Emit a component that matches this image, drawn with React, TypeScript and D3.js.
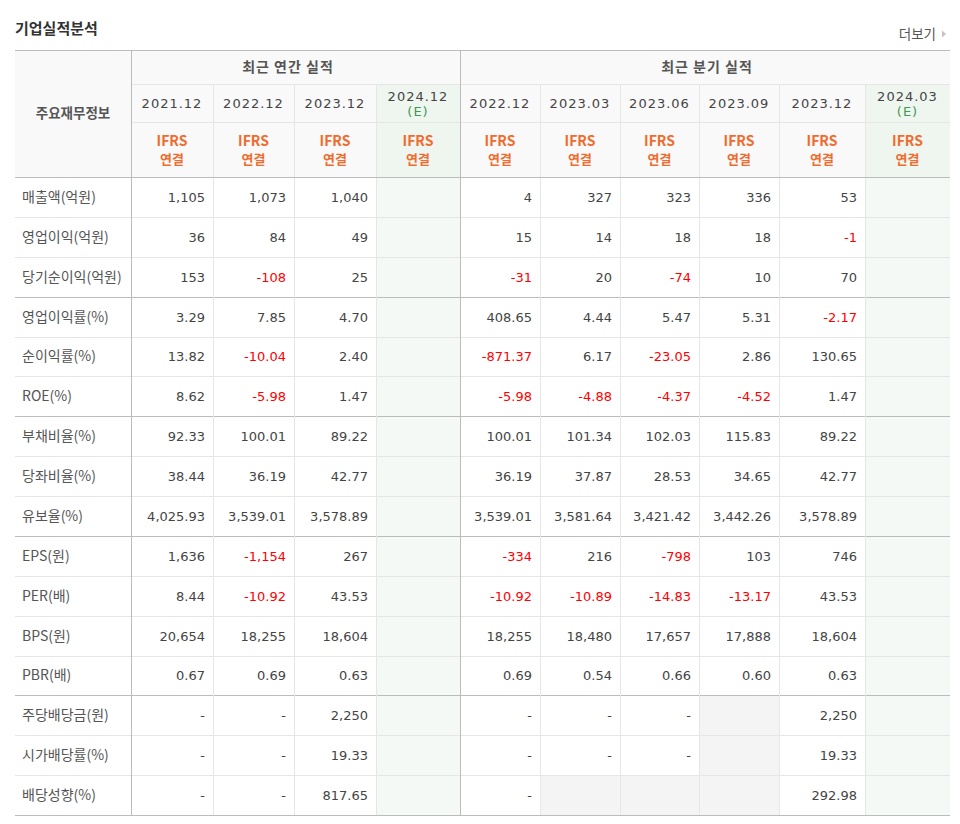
import React from "react";
import * as d3 from "d3";

const metrics = [
  "매출액(억원)", "영업이익(억원)", "당기순이익(억원)",
  "영업이익률(%)", "순이익률(%)", "ROE(%)",
  "부채비율(%)", "당좌비율(%)", "유보율(%)",
  "EPS(원)", "PER(배)", "BPS(원)", "PBR(배)",
  "주당배당금(원)", "시가배당률(%)", "배당성향(%)",
];
const groupEnds = [2, 5, 8, 12, 15];

const annualPeriods = ["2021.12", "2022.12", "2023.12", "2024.12"];
const quarterPeriods = ["2022.12", "2023.03", "2023.06", "2023.09", "2023.12", "2024.03"];
const estimateFlags = [false, false, false, true, false, false, false, false, false, true];

// null => shaded empty cell, "" => blank
const annual2021 = ["1,105", "36", "153", "3.29", "13.82", "8.62", "92.33", "38.44", "4,025.93", "1,636", "8.44", "20,654", "0.67", "-", "-", "-"];
const annual2022 = ["1,073", "84", "-108", "7.85", "-10.04", "-5.98", "100.01", "36.19", "3,539.01", "-1,154", "-10.92", "18,255", "0.69", "-", "-", "-"];
const annual2023 = ["1,040", "49", "25", "4.70", "2.40", "1.47", "89.22", "42.77", "3,578.89", "267", "43.53", "18,604", "0.63", "2,250", "19.33", "817.65"];
const annual2024E = ["", "", "", "", "", "", "", "", "", "", "", "", "", "", "", ""];
const q2022_12 = ["4", "15", "-31", "408.65", "-871.37", "-5.98", "100.01", "36.19", "3,539.01", "-334", "-10.92", "18,255", "0.69", "-", "-", "-"];
const q2023_03 = ["327", "14", "20", "4.44", "6.17", "-4.88", "101.34", "37.87", "3,581.64", "216", "-10.89", "18,480", "0.54", "-", "-", null];
const q2023_06 = ["323", "18", "-74", "5.47", "-23.05", "-4.37", "102.03", "28.53", "3,421.42", "-798", "-14.83", "17,657", "0.66", "-", "-", null];
const q2023_09 = ["336", "18", "10", "5.31", "2.86", "-4.52", "115.83", "34.65", "3,442.26", "103", "-13.17", "17,888", "0.60", null, null, null];
const q2023_12 = ["53", "-1", "70", "-2.17", "130.65", "1.47", "89.22", "42.77", "3,578.89", "746", "43.53", "18,604", "0.63", "2,250", "19.33", "292.98"];
const q2024_03E = ["", "", "", "", "", "", "", "", "", "", "", "", "", "", "", ""];

const columnValues = [annual2021, annual2022, annual2023, annual2024E, q2022_12, q2023_03, q2023_06, q2023_09, q2023_12, q2024_03E];
const columnPeriods = [...annualPeriods, ...quarterPeriods];

// layout
const colEdges = [131, 213, 294, 376, 460, 540, 620, 699, 779, 865, 950];
const LEFT = 15;
const RIGHT = 950;
const TOP = 50;
const H1 = 84;
const H2 = 122;
const H3 = 177;
const BOTTOM = 815;

const DARK = "#bcbcbc";
const LIGHT = "#e6e6e6";
const KR = "'Noto Sans CJK KR', 'Noto Sans', sans-serif";
const NUM = "'DejaVu Sans', Verdana, sans-serif";

export default function App() {
  const y = d3.scaleBand<string>().domain(metrics).range([H3, BOTTOM]).paddingInner(0).paddingOuter(0);
  const bw = y.bandwidth();
  const px = (v: number) => Math.round(v) + 0.5;

  const cols = columnPeriods.map((p, i) => ({
    period: p,
    x0: colEdges[i],
    x1: colEdges[i + 1],
    est: estimateFlags[i],
    values: columnValues[i],
  }));

  return (
    <svg width={960} height={824} style={{ position: "absolute", left: 0, top: 0, background: "#fff" }}>
      {/* title */}
      <text x={15} y={34} fontFamily={KR} fontSize={15} fontWeight={700} fill="#333">기업실적분석</text>
      <text x={936} y={39} fontFamily={KR} fontSize={13.5} fill="#555" textAnchor="end">더보기</text>
      <path d="M942,30.5 L946,34 L942,37.5 Z" fill="#c4c4c4" />

      {/* header backgrounds */}
      <rect x={LEFT} y={TOP} width={RIGHT - LEFT} height={H3 - TOP} fill="#f9f9f9" />
      {cols.filter(c => c.est).map((c, i) => (
        <rect key={"eh" + i} x={c.x0} y={H1} width={c.x1 - c.x0} height={H3 - H1} fill="#eff6f0" />
      ))}
      {cols.filter(c => c.est).map((c, i) => (
        <rect key={"eb" + i} x={c.x0} y={H3} width={c.x1 - c.x0} height={BOTTOM - H3} fill="#f4f9f5" />
      ))}
      {/* shaded empty cells */}
      {cols.map((c, ci) =>
        c.values.map((v, ri) =>
          v === null ? (
            <rect key={`g${ci}-${ri}`} x={c.x0} y={y(metrics[ri])!} width={c.x1 - c.x0} height={bw} fill="#f4f4f4" />
          ) : null
        )
      )}

      {/* horizontal row lines */}
      {metrics.map((m, i) => {
        if (i === 0) return null;
        const yy = px(y(m)!);
        const dark = groupEnds.includes(i - 1);
        return <line key={"h" + i} x1={LEFT} x2={RIGHT} y1={yy} y2={yy} stroke={dark ? DARK : LIGHT} />;
      })}
      <line x1={colEdges[0]} x2={RIGHT} y1={px(H1)} y2={px(H1)} stroke={LIGHT} />
      <line x1={colEdges[0]} x2={RIGHT} y1={px(H2)} y2={px(H2)} stroke={LIGHT} />

      {/* vertical lines */}
      {colEdges.slice(1, -1).map((x, i) => {
        const dark = x === 460;
        return (
          <line key={"v" + i} x1={px(x)} x2={px(x)} y1={dark ? TOP : H1} y2={BOTTOM} stroke={dark ? DARK : LIGHT} />
        );
      })}
      <line x1={px(colEdges[0])} x2={px(colEdges[0])} y1={TOP} y2={BOTTOM} stroke={DARK} />
      <line x1={LEFT} x2={RIGHT} y1={px(TOP)} y2={px(TOP)} stroke={DARK} />
      <line x1={LEFT} x2={RIGHT} y1={px(H3)} y2={px(H3)} stroke={DARK} />
      <line x1={LEFT} x2={RIGHT} y1={px(BOTTOM)} y2={px(BOTTOM)} stroke={DARK} />

      {/* header texts */}
      <text x={73} y={118} fontFamily={KR} fontSize={13.5} fontWeight={700} fill="#555" textAnchor="middle">주요재무정보</text>
      <text x={288} y={72} fontFamily={KR} fontSize={14} letterSpacing={1} fontWeight={700} fill="#555" textAnchor="middle">최근 연간 실적</text>
      <text x={707} y={72} fontFamily={KR} fontSize={14} letterSpacing={1} fontWeight={700} fill="#555" textAnchor="middle">최근 분기 실적</text>

      {cols.map((c, i) => {
        const cx = (c.x0 + c.x1) / 2;
        return (
          <g key={"hd" + i}>
            {c.est ? (
              <>
                <text x={cx} y={101} fontFamily={NUM} fontSize={13} letterSpacing={1} fill="#444" textAnchor="middle">{c.period}</text>
                <text x={cx} y={116} fontFamily={NUM} fontSize={13} letterSpacing={1} fill="#3f9a55" textAnchor="middle">(E)</text>
              </>
            ) : (
              <text x={cx} y={108} fontFamily={NUM} fontSize={13} letterSpacing={1} fill="#444" textAnchor="middle">{c.period}</text>
            )}
            <text x={cx} y={146} fontFamily={KR} fontSize={14} fontWeight={700} fill="#ef6c2f" textAnchor="middle">IFRS</text>
            <text x={cx} y={164} fontFamily={KR} fontSize={13} fontWeight={700} fill="#ef6c2f" textAnchor="middle">연결</text>
          </g>
        );
      })}

      {/* row labels */}
      {metrics.map((m) => (
        <text key={"l" + m} x={22} y={y(m)! + bw / 2 + 5} fontFamily={KR} fontSize={14} fill="#555">{m}</text>
      ))}

      {/* values */}
      {cols.map((c, ci) =>
        c.values.map((v, ri) =>
          v ? (
            <text
              key={`t${ci}-${ri}`}
              x={c.x1 - 8}
              y={y(metrics[ri])! + bw / 2 + 5}
              fontFamily={NUM}
              fontSize={13}
              fill={v.startsWith("-") && v.length > 1 ? "#f00" : "#444"}
              textAnchor="end"
            >
              {v}
            </text>
          ) : null
        )
      )}
    </svg>
  );
}
